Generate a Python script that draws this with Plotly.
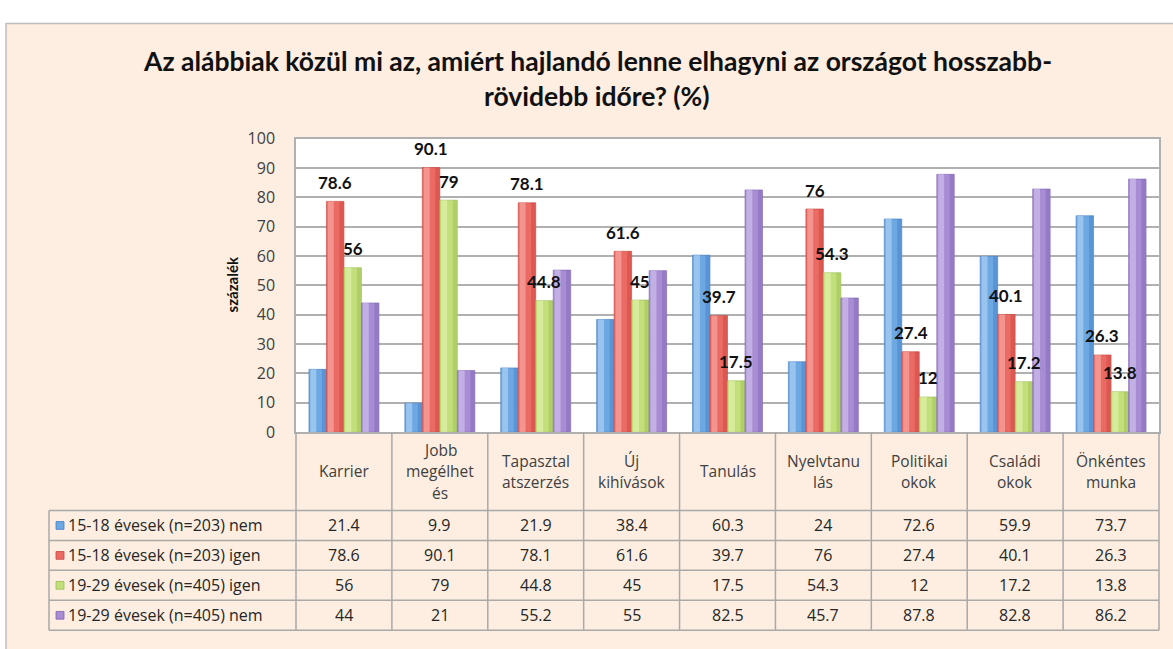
import plotly.graph_objects as go

# ---------------- data ----------------
categories = ["Karrier", "Jobb megélhetés", "Tapasztalatszerzés", "Új kihívások", "Tanulás",
              "Nyelvtanulás", "Politikai okok", "Családi okok", "Önkéntes munka"]
header_labels = ["Karrier", "Jobb<br>megélhet<br>és", "Tapasztal<br>atszerzés", "Új<br>kihívások",
                 "Tanulás", "Nyelvtanu<br>lás", "Politikai<br>okok", "Családi<br>okok", "Önkéntes<br>munka"]
series_names = ["15-18 évesek (n=203) nem", "15-18 évesek (n=203) igen",
                "19-29 évesek (n=405) igen", "19-29 évesek (n=405) nem"]
s1518_nem = [21.4, 9.9, 21.9, 38.4, 60.3, 24, 72.6, 59.9, 73.7]
s1518_igen = [78.6, 90.1, 78.1, 61.6, 39.7, 76, 27.4, 40.1, 26.3]
s1929_igen = [56, 79, 44.8, 45, 17.5, 54.3, 12, 17.2, 13.8]
s1929_nem = [44, 21, 55.2, 55, 82.5, 45.7, 87.8, 82.8, 86.2]
series_values = [s1518_nem, s1518_igen, s1929_igen, s1929_nem]
labelled = [False, True, True, False]
y_ticks = [0, 10, 20, 30, 40, 50, 60, 70, 80, 90, 100]
title_lines = ["Az alábbiak közül mi az, amiért hajlandó lenne elhagyni az országot hosszabb-",
               "rövidebb időre? (%)"]
y_title = "százalék"

# ---------------- style / layout ----------------
colors = ["#6EA8E2", "#EB6A64", "#C3DF7B", "#A88DD4"]
light = ["#A8CDF2", "#F5A39E", "#DDEFA8", "#CBBBE8"]
dark = ["#3F7DC8", "#C8433D", "#98BC50", "#7F63B3"]
W, H = 1173, 649
FONT = "Lato"
TFONT = "Open Sans"
PEACH = "#FDEEE1"
GRID = "#B0B0B0"

def fx(p):
    return p / W

def fy(p):
    return 1 - p / H

PL, PR, PT, PB = 296, 1159, 132, 436   # plot area in px
n = len(categories)
colw = (PR - PL) / n
bargap = 0.27
group_w = 1 - bargap            # in category units
bw = group_w / 4                # one bar, category units
barw = colw * bw                # one bar, px
ROW_TOP = 517
ROW_H = 31
LEG_L = 49

fig = go.Figure()
for i, (name, vals) in enumerate(zip(series_names, series_values)):
    start = -group_w / 2 + i * bw
    # main bar
    fig.add_trace(go.Bar(
        x=categories, y=vals, name=name, offset=start, width=bw,
        marker=dict(color=colors[i], line=dict(color=dark[i], width=0.6)),
        showlegend=False, hoverinfo="x+y+name"))
    # cylinder shading: light left stripe, dark right stripe
    fig.add_trace(go.Bar(
        x=categories, y=vals, offset=start + bw * 0.08, width=bw * 0.34,
        marker=dict(color=light[i], line=dict(width=0), opacity=0.75),
        showlegend=False, hoverinfo="skip"))
    fig.add_trace(go.Bar(
        x=categories, y=vals, offset=start + bw * 0.74, width=bw * 0.24,
        marker=dict(color=dark[i], line=dict(width=0), opacity=0.45),
        showlegend=False, hoverinfo="skip"))

shapes = []
annotations = []

# panel background
shapes.append(dict(type="rect", xref="paper", yref="paper", x0=fx(6), x1=fx(W + 20),
                   y0=fy(H + 20), y1=fy(13), fillcolor=PEACH,
                   line=dict(color="#BDBDBD", width=1.5), layer="below"))
# plot area white
shapes.append(dict(type="rect", xref="paper", yref="paper", x0=fx(PL), x1=fx(PR),
                   y0=fy(PB), y1=fy(PT), fillcolor="white", line=dict(width=0), layer="below"))

# title
for k, line in enumerate(title_lines):
    annotations.append(dict(text="<b>" + line + "</b>", xref="paper", yref="paper",
                            x=fx(597), y=fy(52 + 36 * k), xanchor="center", yanchor="middle",
                            showarrow=False, font=dict(family=FONT, size=26.5, color="#111111")))

# y axis title
annotations.append(dict(text="<b>" + y_title + "</b>", xref="paper", yref="paper",
                        x=fx(232), y=fy(283), textangle=-90, showarrow=False,
                        xanchor="center", yanchor="middle",
                        font=dict(family=FONT, size=15, color="#111111")))

# data labels for the "igen" series
for i, vals in enumerate(series_values):
    if not labelled[i]:
        continue
    for c, v in zip(categories, vals):
        annotations.append(dict(text="<b>%g</b>" % v, x=c, y=v, xref="x", yref="y",
                                xshift=(i - 1.5) * barw, yshift=19, showarrow=False,
                                xanchor="center", yanchor="middle",
                                font=dict(family=FONT, size=17, color="#111111")))

# ---------------- data table ----------------
LINE = dict(color="#A9A9A9", width=1.5)
table_bottom = ROW_TOP + ROW_H * len(series_names)
for j in range(n + 1):
    xp = PL + j * colw
    shapes.append(dict(type="line", xref="paper", yref="paper", x0=fx(xp), x1=fx(xp),
                       y0=fy(PB), y1=fy(table_bottom), line=LINE))
shapes.append(dict(type="line", xref="paper", yref="paper", x0=fx(LEG_L), x1=fx(LEG_L),
                   y0=fy(ROW_TOP), y1=fy(table_bottom), line=LINE))
for r in range(len(series_names) + 1):
    yp = ROW_TOP + r * ROW_H
    shapes.append(dict(type="line", xref="paper", yref="paper", x0=fx(LEG_L), x1=fx(PR),
                       y0=fy(yp), y1=fy(yp), line=LINE))

# header
for j, lab in enumerate(header_labels):
    lines = lab.split("<br>")
    cx = PL + (j + 0.5) * colw
    for k, ln in enumerate(lines):
        cy = (PB + ROW_TOP) / 2 + (k - (len(lines) - 1) / 2) * 22
        annotations.append(dict(text=ln, xref="paper", yref="paper", x=fx(cx), y=fy(cy),
                                xanchor="center", yanchor="middle", showarrow=False,
                                font=dict(family=TFONT, size=15.5, color="#404040")))

# rows
for r, (name, vals) in enumerate(zip(series_names, series_values)):
    cy = ROW_TOP + (r + 0.5) * ROW_H
    shapes.append(dict(type="rect", xref="paper", yref="paper", x0=fx(56), x1=fx(64),
                       y0=fy(cy + 4), y1=fy(cy - 4), fillcolor=colors[r],
                       line=dict(color=dark[r], width=0.8)))
    annotations.append(dict(text=name, xref="paper", yref="paper", x=fx(66), y=fy(cy),
                            xanchor="left", yanchor="middle", showarrow=False,
                            font=dict(family=TFONT, size=16, color="#262626")))
    for j, v in enumerate(vals):
        cx = PL + (j + 0.5) * colw
        annotations.append(dict(text="%g" % v, xref="paper", yref="paper", x=fx(cx), y=fy(cy),
                                xanchor="center", yanchor="middle", showarrow=False,
                                font=dict(family=TFONT, size=16, color="#262626")))

fig.update_layout(
    autosize=True,
    margin=dict(l=0, r=0, t=0, b=0),
    paper_bgcolor="white", plot_bgcolor="rgba(0,0,0,0)",
    barmode="overlay",
    shapes=shapes, annotations=annotations,
    xaxis=dict(domain=[fx(PL), fx(PR)], showticklabels=False, showgrid=False,
               zeroline=False, showline=True, linecolor=GRID, linewidth=1.5, mirror=True,
               range=[-0.5, n - 0.5], fixedrange=True),
    yaxis=dict(domain=[fy(PB), fy(PT)], range=[0, 100], tickvals=y_ticks,
               showgrid=True, gridcolor=GRID, gridwidth=1.8, zeroline=False,
               showline=True, linecolor=GRID, linewidth=1.5, mirror=True,
               ticks="outside", ticklen=16, tickcolor="rgba(0,0,0,0)",
               tickfont=dict(family=TFONT, size=16, color="#404040"), fixedrange=True),
    font=dict(family=FONT),
)

fig.write_html(
    "out.html",
    config={"displayModeBar": False, "responsive": False},
    default_width="%dpx; position:absolute; top:0px; left:0px" % W,
    default_height="%dpx" % H,
    post_script="document.body.style.margin='0';document.documentElement.style.overflow='hidden';",
)
